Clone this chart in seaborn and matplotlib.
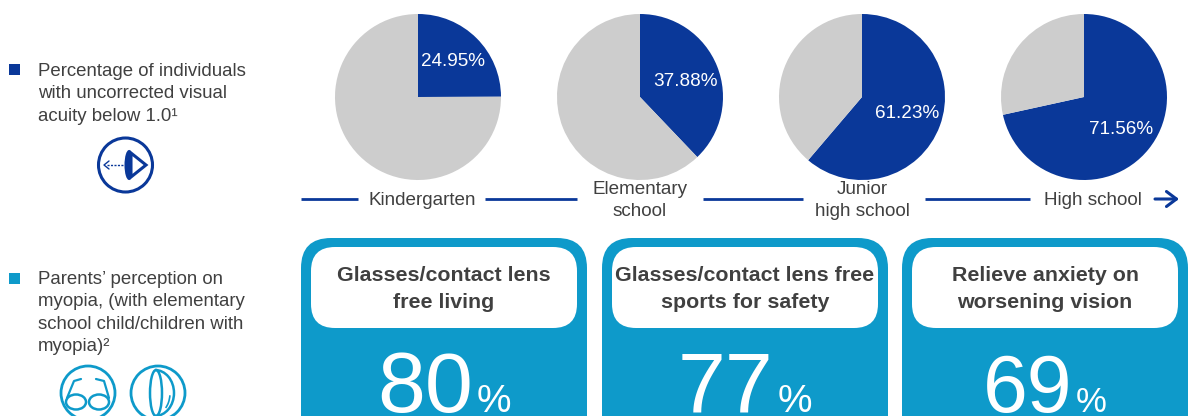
import matplotlib
matplotlib.use("Agg")
import matplotlib.pyplot as plt
import seaborn as sns
from matplotlib.patches import Circle, Ellipse, FancyBboxPatch, Polygon, Arc

stages = ["Kindergarten", "Elementary\nschool", "Junior\nhigh school", "High school"]
acuity_pct = [24.95, 37.88, 61.23, 71.56]

benefits = ["Glasses/contact lens\nfree living", "Glasses/contact lens free\nsports for safety", "Relieve anxiety on\nworsening vision"]
benefit_pct = [80, 77, 69]

NAVY = "#0a3899"
CYAN = "#0e9aca"
GREY = "#cdcdcd"
TXT = "#404040"

sns.set_theme(style="white")
plt.rcParams["font.family"] = ["Liberation Sans", "DejaVu Sans"]

fig = plt.figure(figsize=(11.88, 4.16), dpi=100)
ax = fig.add_axes([0, 0, 1, 1])

# y axis is flipped to pixel coords, so -90 + counterclock reads clockwise from 12 o'clock
pie_x = [418, 640, 862, 1084]
pie_lbl = [(453, 62), (685, 81), (907, 114), (1121, 129)]
for x, v, lp in zip(pie_x, acuity_pct, pie_lbl):
    ax.pie([v, 100 - v], colors=[NAVY, GREY], startangle=-90, counterclock=True,
           center=(x, 97), radius=83, frame=True, wedgeprops={"linewidth": 0})
    ax.text(lp[0], lp[1], f"{v:.2f}%", color="white", fontsize=13.6, ha="center", va="center")

ax.set_xlim(0, 1188)
ax.set_ylim(416, 0)
ax.set_aspect("auto")
ax.axis("off")

# timeline
for x0, x1 in [(301, 358), (485, 577), (703, 803), (925, 1030)]:
    ax.plot([x0, x1], [199, 199], color=NAVY, lw=2, solid_capstyle="butt")
ax.annotate("", xy=(1179, 199), xytext=(1155, 199),
            arrowprops=dict(arrowstyle="->,head_length=0.6,head_width=0.45", color=NAVY, lw=2.2, shrinkA=0, shrinkB=0))
for x, s in zip([422, 640, 862, 1093], stages):
    ax.text(x, 200.5, s, color=TXT, fontsize=13.6, ha="center", va="center", linespacing=1.42)

# benefit cards
card_x = [301, 602, 902]
num_dx = [124, 124, 126]
num_size = [62, 62, 58]
pct_dx = [193, 193, 189]
pct_size = [28, 28, 25]
for i, (x, title, v) in enumerate(zip(card_x, benefits, benefit_pct)):
    ax.add_patch(FancyBboxPatch((x + 30, 268), 226, 200, boxstyle="round,pad=30,rounding_size=30",
                                fc=CYAN, ec="none"))
    ax.add_patch(FancyBboxPatch((x + 34, 271), 218, 33, boxstyle="round,pad=24,rounding_size=24",
                                fc="white", ec="none"))
    ax.text(x + 143, 289, title, color=TXT, fontsize=15.4, fontweight="bold", ha="center", va="center",
            linespacing=1.5)
    ax.text(x + num_dx[i], 412, str(v), color="white", fontsize=num_size[i], ha="center", va="baseline")
    ax.text(x + pct_dx[i], 412, "%", color="white", fontsize=pct_size[i], ha="center", va="baseline")

# side notes
ax.add_patch(plt.Rectangle((9, 64), 11, 11, fc=NAVY, ec="none"))
ax.text(38, 94, "Percentage of individuals\nwith uncorrected visual\nacuity below 1.0\u00b9", color=TXT,
        fontsize=13.4, va="center", ha="left", linespacing=1.42)
ax.add_patch(plt.Rectangle((9, 273), 11, 11, fc=CYAN, ec="none"))
ax.text(38, 313, "Parents\u2019 perception on\nmyopia, (with elementary\nschool child/children with\nmyopia)\u00b2", color=TXT,
        fontsize=13.4, va="center", ha="left", linespacing=1.42)

# eye icon
ax.add_patch(Circle((125.5, 165), 27, fc="white", ec=NAVY, lw=2.2))
ax.add_patch(Ellipse((129, 165), 9, 30, fc=NAVY, ec="none"))
ax.add_patch(Polygon([(131, 153), (146, 165), (131, 177)], closed=True, fc="white", ec=NAVY, lw=2.2))
ax.plot([107, 124], [165, 165], color=NAVY, lw=1, ls=(0, (1.5, 1)))
ax.plot([109, 104, 109], [161, 165, 169], color=NAVY, lw=1)

# glasses icon
ax.add_patch(Circle((88, 393), 27, fc="white", ec=CYAN, lw=2))
ax.add_patch(Ellipse((76, 402), 20, 15, fc="white", ec=CYAN, lw=1.8))
ax.add_patch(Ellipse((99, 402), 20, 15, fc="white", ec=CYAN, lw=1.8))
ax.plot([67, 74, 81], [398, 381, 379], color=CYAN, lw=1.6)
ax.plot([109, 104, 96], [398, 381, 379], color=CYAN, lw=1.6)

# contact lens icon
ax.add_patch(Circle((158, 393), 27, fc="white", ec=CYAN, lw=2))
ax.add_patch(Ellipse((156, 393), 12, 46, fc="white", ec=CYAN, lw=1.8))
ax.add_patch(Arc((155, 393), 38, 46, theta1=-90, theta2=90, color=CYAN, lw=1.8))
ax.add_patch(Arc((157, 393), 26, 40, theta1=10, theta2=60, color=CYAN, lw=1.2))

fig.savefig("out.png", dpi=100, facecolor="white")
